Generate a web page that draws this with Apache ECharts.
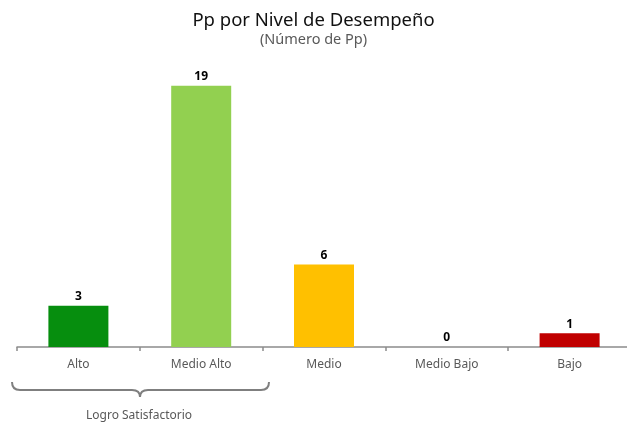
<!DOCTYPE html>
<html>
<head>
<meta charset="utf-8">
<script src="https://cdn.jsdelivr.net/npm/echarts@6/dist/echarts.min.js"></script>
<style>
  html, body { margin: 0; padding: 0; background: #fff; }
  #chart { width: 627px; height: 422px; }
</style>
</head>
<body>
<div id="chart"></div>
<script>
const categories = ['Alto', 'Medio Alto', 'Medio', 'Medio Bajo', 'Bajo'];
const values = [3, 19, 6, 0, 1];
const barColors = ['#068e0e', '#92d050', '#ffc000', '#a6a6a6', '#c00000'];
const groupLabel = 'Logro Satisfactorio';

const font = '"Noto Sans", sans-serif';

let chart = echarts.init(document.getElementById('chart'));

// brace under the first two categories
let braceStyle = { fill: null, stroke: '#7f7f7f', lineWidth: 2 };
function curve(x1, y1, cx, cy, x2, y2) {
    return { type: 'bezierCurve', shape: { x1: x1, y1: y1, cpx1: cx, cpy1: cy, x2: x2, y2: y2 }, style: braceStyle };
}
function seg(x1, y1, x2, y2) {
    return { type: 'line', shape: { x1: x1, y1: y1, x2: x2, y2: y2 }, style: braceStyle };
}

let option = {
    animation: false,
    title: {
        text: 'Pp por Nivel de Desempeño',
        subtext: '(Número de Pp)',
        left: 'center',
        top: 6,
        itemGap: 2,
        textStyle: { fontFamily: font, fontSize: 18.5, fontWeight: 'normal', color: '#111' },
        subtextStyle: { fontFamily: font, fontSize: 14.5, color: '#595959' }
    },
    grid: {
        left: 17,
        right: -4,
        top: 72,
        bottom: 75,
        outerBoundsMode: 'none'
    },
    xAxis: {
        type: 'category',
        data: categories,
        axisLine: { lineStyle: { color: '#8c8c8c', width: 1.5 } },
        axisTick: { show: true, length: 4, lineStyle: { color: '#8c8c8c', width: 1.5 } },
        axisLabel: { fontFamily: font, fontSize: 12, color: '#595959', margin: 12 }
    },
    yAxis: {
        type: 'value',
        min: 0,
        max: 20,
        show: false,
        splitLine: { show: false }
    },
    series: [
        {
            type: 'bar',
            data: values.map((v, i) => ({ value: v, itemStyle: { color: barColors[i] } })),
            barWidth: 60,
            label: {
                show: true,
                position: 'top',
                distance: 3,
                fontFamily: font,
                fontSize: 12,
                fontWeight: 'bold',
                color: '#000'
            }
        }
    ],
    graphic: [
        curve(12, 382, 12, 390, 20, 390),
        seg(20, 390, 132, 390),
        curve(132, 390, 140, 390, 140, 397),
        curve(140, 397, 140, 390, 148, 390),
        seg(148, 390, 261, 390),
        curve(261, 390, 269, 390, 269, 382),
        {
            type: 'text',
            left: 140 - 54,
            top: 410,
            style: { text: groupLabel, fontFamily: font, fontSize: 12, fill: '#595959' }
        }
    ]
};

chart.setOption(option);
</script>
</body>
</html>
